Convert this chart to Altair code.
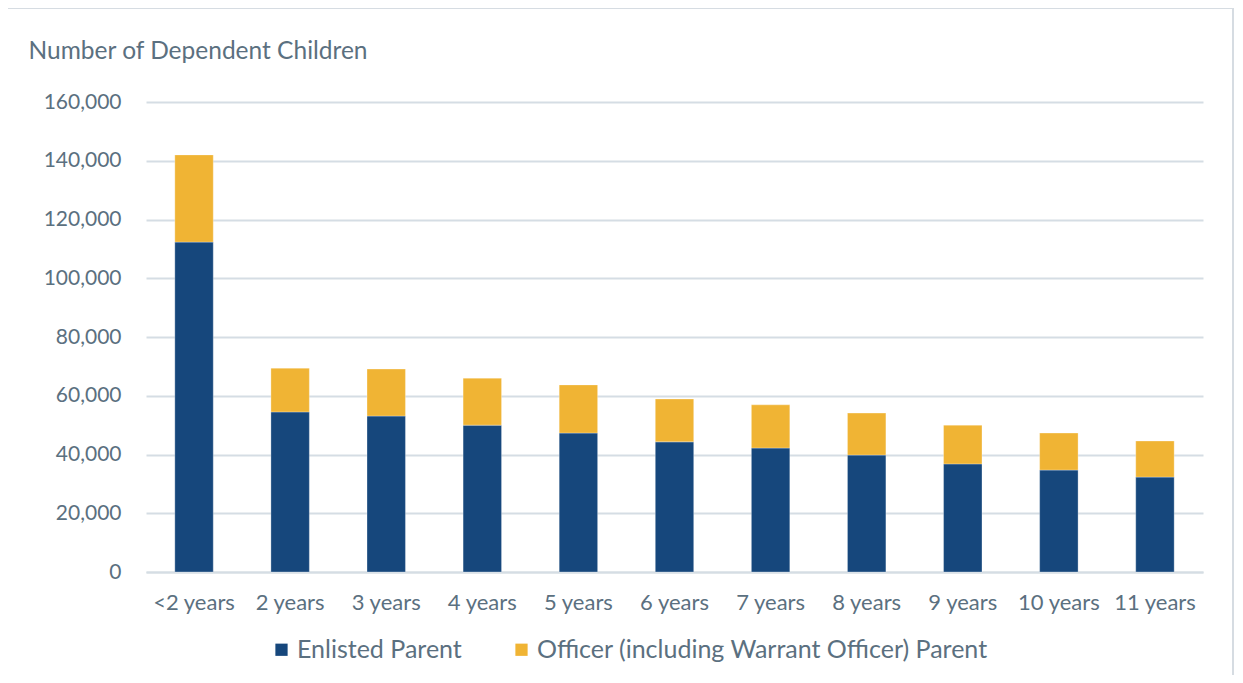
import altair as alt
import pandas as pd

categories = ["<2 years", "2 years", "3 years", "4 years", "5 years", "6 years",
              "7 years", "8 years", "9 years", "10 years", "11 years"]
enlisted = [112300, 54500, 53100, 50000, 47300, 44300, 42200, 39800, 36800, 34700, 32300]
officer_total = [142000, 69400, 69100, 66000, 63700, 58900, 56900, 54100, 50000, 47300, 44600]
officer = [t - e for t, e in zip(officer_total, enlisted)]
series = ["Enlisted Parent", "Officer (including Warrant Officer) Parent"]
colors = ["#16477C", "#F0B434"]
y_ticks = [0, 20000, 40000, 60000, 80000, 100000, 120000, 140000, 160000]

rows = []
for c, e, o in zip(categories, enlisted, officer):
    rows.append({"age": c, "series": series[0], "value": e, "ord": 0})
    rows.append({"age": c, "series": series[1], "value": o, "ord": 1})
df = pd.DataFrame(rows)

TEXT = "#5B7080"
FONT = "Lato"

bars = alt.Chart(df).mark_bar(stroke="white", strokeWidth=0.5, strokeOpacity=0.6).encode(
    x=alt.X("age:N", sort=categories, title=None,
            scale=alt.Scale(paddingInner=0.6, paddingOuter=0.3),
            axis=alt.Axis(labelAngle=0, labelFontSize=22, labelColor=TEXT, labelFont=FONT,
                          ticks=False, labelPadding=20, domainColor="#D5DDE4", domainWidth=2)),
    y=alt.Y("value:Q", stack="zero", title="Number of Dependent Children",
            scale=alt.Scale(domain=[0, 160000], nice=False),
            axis=alt.Axis(values=y_ticks,
                          labelExpr="format(datum.value, ',')",
                          labelFontSize=21, labelColor=TEXT, labelFont=FONT,
                          ticks=False, domain=False, labelPadding=25,
                          gridColor="#D5DDE4", gridWidth=2,
                          titleAngle=0, titleX=-118, titleY=-51, titleAlign="left",
                          titleBaseline="middle", titleFontSize=24.5, titleFontWeight="normal",
                          titleColor=TEXT, titleFont=FONT)),
    color=alt.Color("series:N", sort=series,
                    scale=alt.Scale(domain=series, range=colors),
                    legend=alt.Legend(title=None, orient="none", legendX=123, legendY=535,
                                      direction="horizontal", symbolType="square",
                                      symbolSize=150, symbolStrokeWidth=0,
                                      labelFontSize=25, labelColor=TEXT, labelFont=FONT,
                                      labelOffset=3, columnPadding=47, labelLimit=800)),
    order=alt.Order("ord:Q", sort="ascending"),
)

border = alt.Chart(pd.DataFrame({"a": [0]})).mark_rect(
    fill=None, stroke="#D6DCE2", strokeWidth=2
).encode(x=alt.value(-139), x2=alt.value(1087), y=alt.value(-94), y2=alt.value(600))

chart = alt.layer(bars, border).properties(
    width=1057, height=470,
    autosize=alt.AutoSizeParams(type="none"),
    padding={"left": 138, "top": 94, "right": 32, "bottom": 103},
).configure(background="white").configure_view(stroke=None)

chart.save("out.html", embed_options={"renderer": "svg", "actions": False})
